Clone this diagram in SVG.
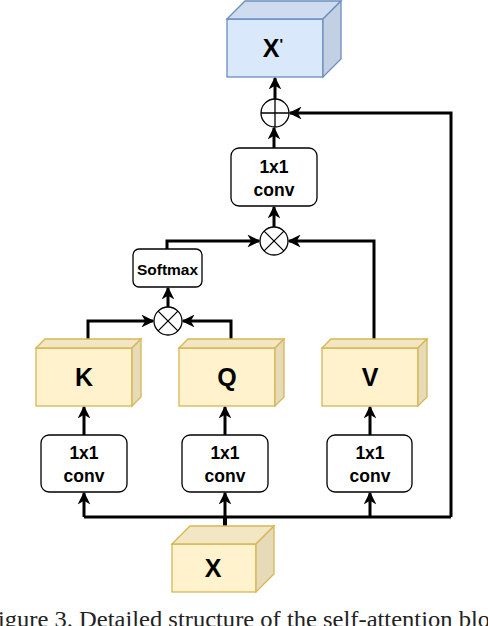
<svg xmlns="http://www.w3.org/2000/svg" width="488" height="626" viewBox="0 0 488 626">
<defs>
<style>
.box{fill:#fff;stroke:#000;stroke-width:1.3}
.yf{fill:#fff2cc;stroke:#d6b656;stroke-width:1.3}
.yt{fill:#f2e6c3;stroke:#d6b656;stroke-width:1.3}
.ys{fill:#e6dab7;stroke:#d6b656;stroke-width:1.3}
.bf{fill:#dae8fc;stroke:#6c8ebf;stroke-width:1.3}
.bt{fill:#cfdcef;stroke:#6c8ebf;stroke-width:1.3}
.bs{fill:#c3cfe2;stroke:#6c8ebf;stroke-width:1.3}
.op{fill:#fff;stroke:#000;stroke-width:1.3}
.t{font-family:"Liberation Sans",Arial,sans-serif;font-weight:bold;text-anchor:middle;fill:#000}
.cv{font-size:17.5px}
.big{font-size:25px}
.c{fill:none;stroke:#000;stroke-width:3;marker-end:url(#a)}
.l{fill:none;stroke:#000;stroke-width:3}
</style>
<marker id="a" viewBox="0 0 10 10" refX="9" refY="5" markerWidth="4.3" markerHeight="4.3" orient="auto">
<path d="M0,0 L10,5 L0,10 L3,5 z" fill="#000"/>
</marker>
</defs>
<g id="connectors">
<path class="l" d="M225,526 V517" style="stroke-width:4"/>
<path class="l" d="M84,517 H451"/>
<path class="c" d="M84,517 V493"/>
<path class="c" d="M225,517 V493"/>
<path class="c" d="M370,517 V493"/>
<path class="c" d="M84,435 V407"/>
<path class="c" d="M225,435 V407"/>
<path class="c" d="M370,435 V407"/>
<path class="c" d="M88,339 V321 H153"/>
<path class="c" d="M231,339 V321 H183"/>
<path class="c" d="M168,307 V288"/>
<path class="c" d="M167,249 V241 H259"/>
<path class="c" d="M374,339 V241 H289"/>
<path class="c" d="M274,227 V207"/>
<path class="c" d="M274,148 V128"/>
<path class="c" d="M275,99 V78"/>
<path class="c" d="M451,517 V113 H290"/>
</g>
<g id="Xp">
<rect class="bf" x="227" y="19" width="96" height="58"/>
<polygon class="bt" points="227,19 245,1 341,1 323,19"/>
<polygon class="bs" points="323,19 341,1 341,59 323,77"/>
<text class="t big" x="273" y="57">X<tspan font-size="15" dy="-8">'</tspan></text>
</g>
<g id="plus">
<circle class="op" cx="275" cy="113" r="14"/>
<path d="M261,113 H289 M275,99 V127" stroke="#000" stroke-width="1.3"/>
</g>
<g id="conv_top">
<rect class="box" x="231" y="148" width="86" height="58" rx="8"/>
<text class="t cv" x="274" y="173">1x1</text>
<text class="t cv" x="274" y="196">conv</text>
</g>
<g id="times_top">
<circle class="op" cx="274" cy="241" r="14"/>
<path d="M264.1,231.1 L283.9,250.9 M283.9,231.1 L264.1,250.9" stroke="#000" stroke-width="1.3"/>
</g>
<g id="softmax">
<rect class="box" x="133" y="249" width="69" height="38" rx="6"/>
<text class="t" x="167.5" y="274.5" font-size="15.5">Softmax</text>
</g>
<g id="times_low">
<circle class="op" cx="168" cy="321" r="14"/>
<path d="M158.1,311.1 L177.9,330.9 M177.9,311.1 L158.1,330.9" stroke="#000" stroke-width="1.3"/>
</g>
<g id="K">
<rect class="yf" x="36" y="348" width="96" height="58"/>
<polygon class="yt" points="36,348 45,339 141,339 132,348"/>
<polygon class="ys" points="132,348 141,339 141,397 132,406"/>
<text class="t big" x="84" y="386">K</text>
</g>
<g id="Q">
<rect class="yf" x="179" y="348" width="96" height="58"/>
<polygon class="yt" points="179,348 188,339 284,339 275,348"/>
<polygon class="ys" points="275,348 284,339 284,397 275,406"/>
<text class="t big" x="227" y="386">Q</text>
</g>
<g id="V">
<rect class="yf" x="322" y="348" width="96" height="58"/>
<polygon class="yt" points="322,348 331,339 427,339 418,348"/>
<polygon class="ys" points="418,348 427,339 427,397 418,406"/>
<text class="t big" x="370" y="386">V</text>
</g>
<g id="convK">
<rect class="box" x="41" y="435" width="86" height="57" rx="8"/>
<text class="t cv" x="84" y="459">1x1</text>
<text class="t cv" x="84" y="482">conv</text>
</g>
<g id="convQ">
<rect class="box" x="182" y="435" width="86" height="57" rx="8"/>
<text class="t cv" x="225" y="459">1x1</text>
<text class="t cv" x="225" y="482">conv</text>
</g>
<g id="convV">
<rect class="box" x="327" y="435" width="85" height="57" rx="8"/>
<text class="t cv" x="370" y="459">1x1</text>
<text class="t cv" x="370" y="482">conv</text>
</g>
<g id="X">
<rect class="yf" x="172" y="544" width="84" height="48"/>
<polygon class="yt" points="172,544 190,526 274,526 256,544"/>
<polygon class="ys" points="256,544 274,526 274,574 256,592"/>
<text class="t big" x="213" y="577">X</text>
</g>
<text x="-2" y="627" textLength="492" lengthAdjust="spacingAndGlyphs" font-family="'Liberation Serif','Times New Roman',serif" font-size="23" fill="#222">igure 3. Detailed structure of the self-attention blo</text>
</svg>
